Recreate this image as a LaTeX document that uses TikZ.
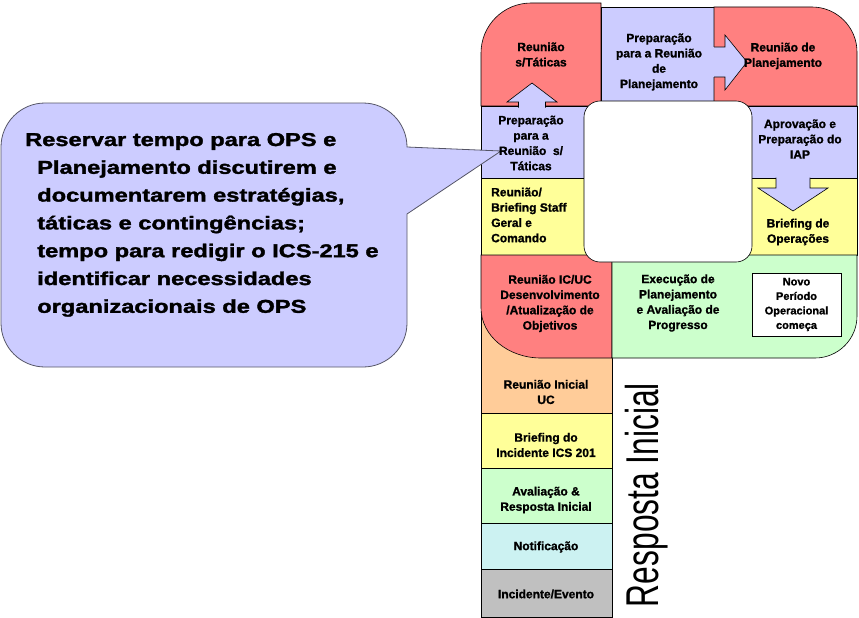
\documentclass[tikz,border=0pt]{standalone}
\usepackage{fontspec}
\setmainfont{Liberation Sans}
\newfontfamily\heavyfont[FakeBold=1.2]{Liberation Sans Bold}
\newfontfamily\heavierfont[FakeBold=1.6]{Liberation Sans Bold}
\definecolor{cred}{HTML}{FF8080}
\definecolor{clav}{HTML}{CCCCFF}
\definecolor{cyel}{HTML}{FFFF99}
\definecolor{cgrn}{HTML}{CCFFCC}
\definecolor{corg}{HTML}{FFCC99}
\definecolor{ccyn}{HTML}{CCF2F2}
\definecolor{cgry}{HTML}{C0C0C0}
\definecolor{cbrd}{HTML}{555566}
\tikzset{
  cell/.style={draw=black, line width=0.6pt},
  blockarrow/.style={draw=black, line width=0.6pt, fill=clav},
  lbl/.style={font=\fontsize{12}{15.3}\selectfont\heavyfont, align=center, inner sep=0pt},
  smalllbl/.style={font=\fontsize{11}{14.5}\selectfont\heavyfont, align=center, inner sep=0pt},
}
\begin{document}
\begin{tikzpicture}[x=1pt,y=-1pt]
\useasboundingbox (0,0) rectangle (859,618);
% bottom column
\path[cell, fill=corg] (481,300) rectangle (612,413);
\path[cell, fill=cyel] (481,413) rectangle (612,468);
\path[cell, fill=cgrn] (481,468) rectangle (612,523);
\path[cell, fill=ccyn] (481,523) rectangle (612,569);
\path[cell, fill=cgry] (481,569) rectangle (612,617);
% top row
\path[cell, fill=cred] (481,106) -- (481,53) .. controls (481,25.4) and (503.4,3) .. (531,3) -- (601,3) -- (601,106) -- cycle;
\path[cell, fill=clav] (601,7) rectangle (714,106);
\path[cell, fill=cred] (714,106) -- (714,7) -- (812,7) .. controls (836.8,7) and (857,27.2) .. (857,52) -- (857,106) -- cycle;
% side cells
\path[cell, fill=clav] (481,106) rectangle (600,178);
\path[cell, fill=cyel] (481,178) rectangle (600,255);
\path[cell, fill=clav] (735,106) rectangle (857,178);
\path[cell, fill=cyel] (735,178) rectangle (857,255);
% row 4
\path[cell, fill=cred] (481,255) -- (481,308) .. controls (481,335.6) and (507.9,358) .. (541,358) -- (612,358) -- (612,255) -- cycle;
\path[cell, fill=cgrn] (612,255) -- (857,255) -- (857,316) .. controls (857,339.2) and (838.2,358) .. (815,358) -- (612,358) -- cycle;
% block arrows
\fill[clav] (518.5,101) rectangle (545.5,107.8);
\draw[blockarrow] (518.5,107.6) -- (518.5,102) -- (507,102) -- (532,83) -- (557,102) -- (545.5,102) -- (545.5,107.6);
\fill[clav] (713.2,47) rectangle (726,77);
\draw[blockarrow] (714.2,47) -- (725,47) -- (725,35) -- (747,62) -- (725,90) -- (725,77) -- (714.2,77);
\fill[clav] (776,177.2) rectangle (810,189);
\draw[blockarrow] (776,177.6) -- (776,188) -- (758,188) -- (793,211) -- (828,188) -- (810,188) -- (810,177.6);
% centre white box
\draw[line width=0.6pt, fill=white, rounded corners=16pt] (584,101) rectangle (752,262);
% callout
\path[draw=cbrd, line width=0.8pt, fill=clav] (45,103) -- (363,103) .. controls (387.3,103) and (407,122.7) .. (407,147) -- (501,151) -- (407,214) -- (407,323) .. controls (407,347.3) and (387.3,367) .. (363,367) -- (45,367) .. controls (20.7,367) and (1,347.3) .. (1,323) -- (1,147) .. controls (1,122.7) and (20.7,103) .. (45,103) -- cycle;
\node[anchor=base west, inner sep=0pt] (callouttext) at (25,146) {\scalebox{1.27}[1]{\fontsize{18.6}{27.8}\selectfont\heavierfont
\begin{tabular}[t]{@{}l@{}}
Reservar tempo para OPS e\\
\hspace*{9.5pt}Planejamento discutirem e\\
\hspace*{9.5pt}documentarem estratégias,\\
\hspace*{9.5pt}táticas e contingências;\\
\hspace*{9.5pt}tempo para redigir o ICS-215 e\\
\hspace*{9.5pt}identificar necessidades\\
\hspace*{9.5pt}organizacionais de OPS
\end{tabular}}};
% labels
\node[lbl] (t1) at (541,54.5) {Reunião\\s/Táticas};
\node[lbl] (t2) at (659,62) {Preparação\\para a Reunião\\de\\Planejamento};
\node[lbl] (t3) at (783,56) {Reunião de\\Planejamento};
\node[lbl] (t4) at (531,143) {Preparação\\para a\\Reunião\ \ s/\\Táticas};
\node[lbl] (t5) at (800,139) {Aprovação e\\Preparação do\\IAP};
\node[lbl, align=left, anchor=west] (t6) at (491,215) {Reunião/\\Briefing Staff\\Geral e\\Comando};
\node[lbl] (t7) at (798,232) {Briefing de\\Operações};
\node[lbl] (t8) at (550,303.5) {Reunião IC/UC\\Desenvolvimento\\/Atualização de\\Objetivos};
\node[lbl] (t9) at (678,303) {Execução de\\Planejamento\\e Avaliação de\\Progresso};
\node[cell, fill=white, minimum width=89pt, minimum height=63pt, inner sep=0pt] (novo) at (796.5,304.5) {};
\node[smalllbl] (t10) at (novo.center) {Novo\\Período\\Operacional\\começa};
\node[lbl] (t11) at (546,392) {Reunião Inicial\\UC};
\node[lbl] (t12) at (546,445) {Briefing do\\Incidente ICS 201};
\node[lbl] (t13) at (546,500) {Avaliação \&\\Resposta Inicial};
\node[lbl] (t14) at (546,547) {Notificação};
\node[lbl] (t15) at (546,594) {Incidente/Evento};
\node[rotate=90, anchor=base, inner sep=0pt] (resp) at (658,495) {\scalebox{0.69}[1]{\fontsize{46}{46}\selectfont Resposta Inicial}};
\end{tikzpicture}
\end{document}
